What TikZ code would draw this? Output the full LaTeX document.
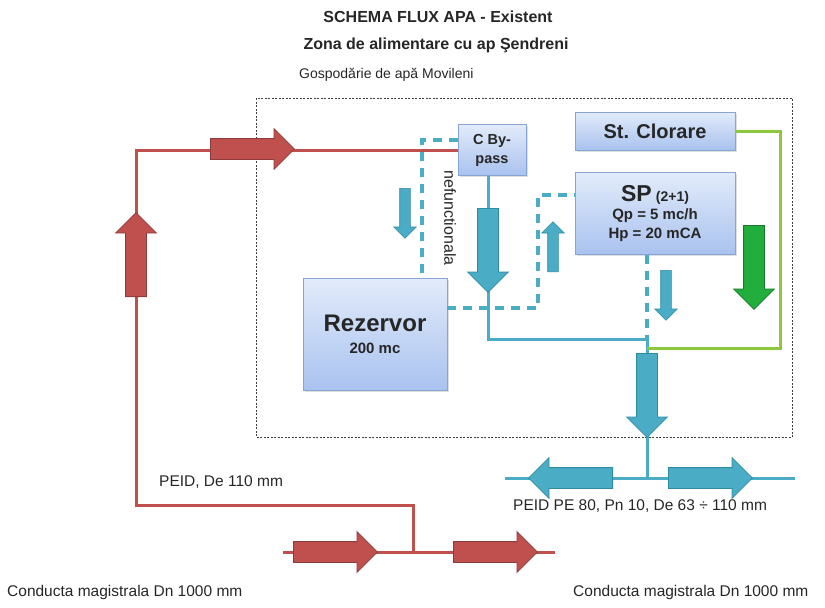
\documentclass[tikz,border=0pt]{standalone}
\usepackage{fontspec}
\setmainfont{Liberation Sans}
\usetikzlibrary{shapes.arrows,shadows,positioning}
\definecolor{pipered}{HTML}{C0504D}
\definecolor{pipereddark}{HTML}{8E3B39}
\definecolor{pipeteal}{HTML}{4BACC6}
\definecolor{pipetealdark}{HTML}{2F8AA3}
\definecolor{pipegreen}{HTML}{8DC63F}
\definecolor{clorgreen}{HTML}{22AE3C}
\definecolor{clorgreendark}{HTML}{17782A}
\definecolor{boxtop}{HTML}{E2EBFA}
\definecolor{boxbot}{HTML}{A9C2EF}
\definecolor{boxedge}{HTML}{86A4D4}
\newcommand{\fsz}[2]{\fontsize{#1}{#2}\selectfont}

\begin{document}
\begin{tikzpicture}[x=1pt,y=-1pt,
  unit/.style={rectangle,draw=boxedge,top color=boxtop,bottom color=boxbot,
               align=center,inner sep=2pt,text=black!85,
               drop shadow={opacity=0.25,shadow xshift=1.5pt,shadow yshift=-1.5pt}},
  bigarr/.style={single arrow,inner sep=0pt,inner ysep=10pt,
                 single arrow head extend=10pt,minimum height=84pt,line width=0.8pt},
  smallarr/.style={single arrow,inner sep=0pt,inner ysep=5pt,
                   single arrow head extend=6pt,minimum height=50pt,line width=0.6pt,
                   fill=pipeteal,draw=pipetealdark},
  redarr/.style={bigarr,fill=pipered,draw=pipereddark},
  tealarr/.style={bigarr,fill=pipeteal,draw=pipetealdark},
  greenarr/.style={bigarr,fill=clorgreen,draw=clorgreendark},
  redpipe/.style={draw=pipered,line width=3pt},
  tealpipe/.style={draw=pipeteal,line width=3pt},
  greenpipe/.style={draw=pipegreen,line width=3pt},
  tealdash/.style={draw=pipeteal,line width=3.5pt,dash pattern=on 9pt off 7pt},
  lbl/.style={font=\fsz{15.5}{18},text=black!85,inner sep=0pt}]
\useasboundingbox (0,0) rectangle (825,608);
%% ── Titles ──────────────────────────────────────────────────────────────
\node[lbl,font=\fsz{16}{18}\bfseries](title) at (438,17) {SCHEMA FLUX APA - Existent};
\node[lbl,font=\fsz{16}{18}\bfseries](zone) at (436,45) {Zona de alimentare cu ap Şendreni};
\node[lbl,font=\fsz{14}{16},anchor=west](site) at (299,75) {Gospodărie de apă Movileni};
%% ── Water works enclosure ───────────────────────────────────────────────
\draw[black!75,line width=0.8pt,dash pattern=on 2pt off 1.5pt] (256,98) rectangle (792,437);
%% ── Units ───────────────────────────────────────────────────────────────
\node[unit,minimum width=68pt,minimum height=51pt,font=\fsz{14.5}{19}\bfseries]
  (bypass) at (492,150) {C By-\\pass};
\node[unit,minimum width=160pt,minimum height=38pt,font=\fsz{20}{22}\bfseries]
  (clor) at (655,131) {St. Clorare};
\node[unit,minimum width=160pt,minimum height=82pt,font=\fsz{15}{19}\bfseries]
  (sp) at (655,213.5) {{\fsz{23}{24}SP} {\fsz{14}{16}(2+1)}\\[-1pt]
   Qp = 5 mc/h\\ Hp = 20 mCA};
\node[unit,minimum width=144pt,minimum height=112pt,font=\fsz{15}{18}\bfseries]
  (rez) at (375,334) {{\fsz{24}{26}Rezervor}\\[4pt] 200 mc};
%% ── Raw water main (red) ────────────────────────────────────────────────
\coordinate (mainL) at (283,552);
\coordinate (mainR) at (555,552);
\coordinate (junc) at (413,552);
\draw[redpipe] (mainL) -- (mainR);
\draw[redpipe] (junc) |- (136,505) |- (bypass.west);
\node[redarr,anchor=tail](flowA) at (293,552) {};
\node[redarr,anchor=tail](flowB) at (453,552) {};
\node[redarr,anchor=tail,rotate=90](riser) at (136,297) {};
\node[redarr,anchor=tail](inlet) at (210,149) {};
%% ── Treated water (teal) ────────────────────────────────────────────────
\coordinate (collect) at (647,339);
\coordinate (distL) at (505,478);
\coordinate (distR) at (795,478);
\draw[tealpipe] ([xshift=-4pt]bypass.south) |- (collect) -- (collect |- distL);
\draw[tealpipe] (distL) -- (distR);
\draw[tealdash] ([yshift=10pt]bypass.west) -| (422,275);
\draw[tealdash] ([yshift=26pt]rez.east) -| (538,195) -- ([yshift=18.5pt]sp.west);
\draw[tealdash] ([xshift=-8pt]sp.south) -- (collect);
%% ── Chlorination (green) ────────────────────────────────────────────────
\draw[greenpipe] (clor.east) -| (780,348) -- (647,348);
%% ── Flow arrows ─────────────────────────────────────────────────────────
\node[tealarr,anchor=tail,rotate=-90](bypassflow) at (488,208) {};
\node[tealarr,anchor=tail,rotate=-90](outflow) at (647,353) {};
\node[tealarr,anchor=tail,rotate=180](distW) at (613,478) {};
\node[tealarr,anchor=tail](distE) at (668,478) {};
\node[greenarr,anchor=tail,rotate=-90](dose) at (754,225) {};
\node[smallarr,anchor=tail,rotate=-90](fillrez) at (405,188) {};
\node[smallarr,anchor=tail,rotate=90](suction) at (553,272) {};
\node[smallarr,anchor=tail,rotate=-90](delivery) at (666,270) {};
%% ── Labels ──────────────────────────────────────────────────────────────
\node[lbl,rotate=-90,font=\fsz{16}{18}](nefunc) at (450,218) {nefunctionala};
\node[lbl,anchor=west](peidin) at (159,482) {PEID, De 110 mm};
\node[lbl,anchor=west](peidout) at (513,506) {PEID PE 80, Pn 10, De 63 ÷ 110 mm};
\node[lbl,anchor=west](mainin) at (7,592) {Conducta magistrala Dn 1000 mm};
\node[lbl,anchor=west](mainout) at (573,592) {Conducta magistrala Dn 1000 mm};
\end{tikzpicture}
\end{document}
